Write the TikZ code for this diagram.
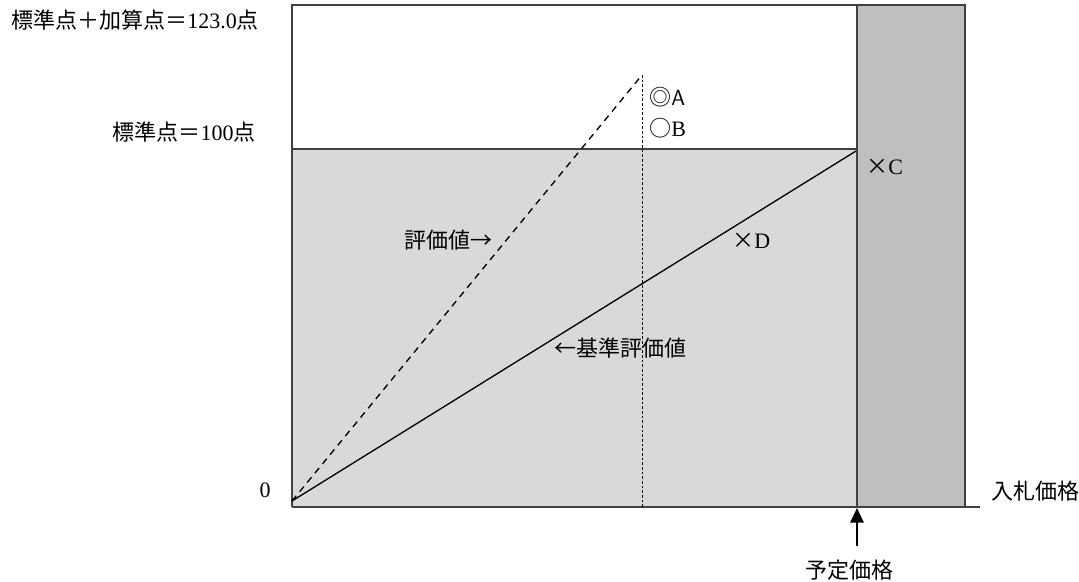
\documentclass[tikz,border=0pt]{standalone}
\usepackage{fontspec}
\setmainfont{Liberation Serif}
\newfontfamily\jp{Noto Sans CJK JP}
\usetikzlibrary{arrows.meta}
\definecolor{lightarea}{HTML}{D9D9D9}
\definecolor{darkarea}{HTML}{BFBFBF}
\definecolor{edgegray}{HTML}{404040}
\begin{document}
\begin{tikzpicture}[x=0.75pt,y=-0.75pt,every node/.style={font=\fontsize{16.5}{19}\selectfont,inner sep=0pt}]
\useasboundingbox (0,0) rectangle (1079,582);
% areas
\fill[lightarea] (292,149) rectangle (857,507);
\fill[darkarea] (857,5) rectangle (965,507);
\draw[edgegray,line width=0.8pt] (292,507) -- (292,5) -- (965,5) -- (965,507);
\draw[edgegray,line width=0.8pt] (292,149) -- (857,149);
\draw[edgegray,line width=0.8pt] (857,5) -- (857,507);
% points
\coordinate (o) at (292,501);
\coordinate (top) at (642,75);
\coordinate (base) at (642,507);
\coordinate (std) at (856,151);
\coordinate (axl) at (292,507);
\coordinate (axr) at (980,507);
\draw[edgegray,line width=0.8pt] (axl) -- (axr);
\draw[line width=1pt,dash pattern=on 5pt off 4pt] (o) -- (top);
\draw[line width=1pt] (o) -- (std);
\draw[line width=0.7pt,dash pattern=on 2pt off 1.5pt] (top) -- (base);
% labels
\node[anchor=west] (sum) at (11,20) {{\jp 標準点＋加算点＝}123.0{\jp 点}};
\node[anchor=east] (std100) at (256,132) {{\jp 標準点＝}100{\jp 点}};
\node (zero) at (265,490) {0};
\node[anchor=west] (pa) at (649,97) {{\jp ◎}\textsf{A}};
\node[anchor=west] (pb) at (649,128) {{\jp ○}B};
\node[anchor=west] (pc) at (866,167) {{\jp ×}C};
\node[anchor=west] (pd) at (732,241) {{\jp ×}D};
\node (evl) at (448,240) {\jp 評価値→};
\node (basel) at (620,348) {\jp ←基準評価値};
\node[anchor=west] (bid) at (991,491) {\jp 入札価格};
\node (plan) at (849,570) {\jp 予定価格};
\coordinate (tip) at (857,508);
\draw[line width=1.6pt,-{Triangle[length=11pt,width=10pt]}] (857,546) -- (tip);
\end{tikzpicture}
\end{document}
